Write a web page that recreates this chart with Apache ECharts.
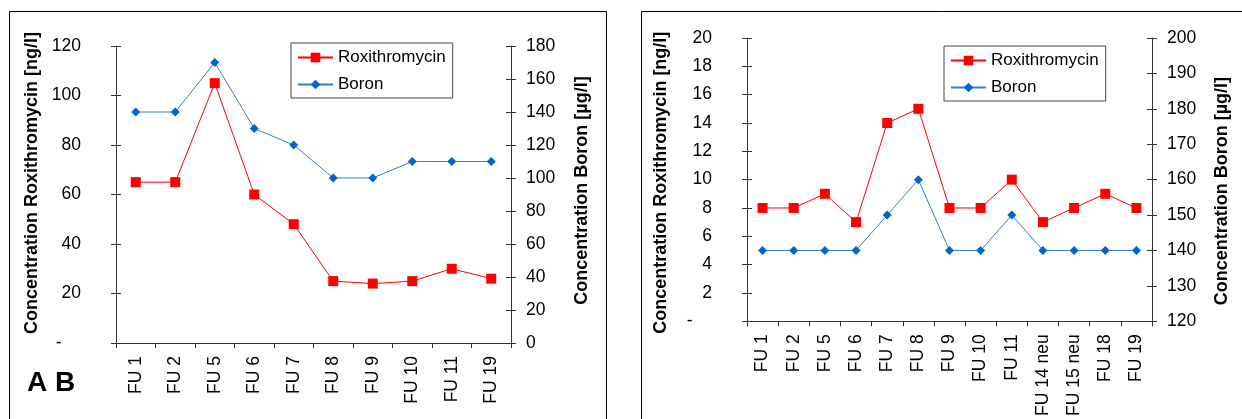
<!DOCTYPE html>
<html><head><meta charset="utf-8">
<script src="https://cdn.jsdelivr.net/npm/echarts@6/dist/echarts.min.js"></script>
<style>html,body{margin:0;padding:0;background:#fff}#c{width:1242px;height:419px}</style>
</head><body><div id="c"></div>
<script>
// Panel A
const catsA = ['FU 1','FU 2','FU 5','FU 6','FU 7','FU 8','FU 9','FU 10','FU 11','FU 19'];
const roxiA = [65, 65, 105, 60, 48, 25, 24, 25, 30, 26];
const boronA = [140, 140, 170, 130, 120, 100, 100, 110, 110, 110];
// Panel B
const catsB = ['FU 1','FU 2','FU 5','FU 6','FU 7','FU 8','FU 9','FU 10','FU 11','FU 14 neu','FU 15 neu','FU 18','FU 19'];
const roxiB = [8, 8, 9, 7, 14, 15, 8, 8, 10, 7, 8, 9, 8];
const boronB = [140, 140, 140, 140, 150, 160, 140, 140, 150, 140, 140, 140, 140];

const FONT = '"Liberation Sans", Arial, sans-serif';
const RED = '#FF0000', BLUE = '#0066CC', BLUE_LINE = '#2f7fd6';
const AX = '#333';
const chart = echarts.init(document.getElementById('c'));

function zeroDash(v){ return v === 0 ? '-    ' : String(v); }
function yAx(grid, pos, min, max, interval, fmt, name, nameGap, nameShift){
  return {
    type:'value', gridIndex:grid, position:pos, min, max, interval,
    splitLine:{show:false},
    axisLine:{show:true, lineStyle:{color:AX, width:1}},
    axisTick:{show:true, length:5, lineStyle:{color:AX}},
    axisLabel:{color:'#000', fontFamily:FONT, fontSize:17.5, margin: pos==='left'?35:15, formatter:fmt},
    name, nameLocation:'middle', nameGap, nameRotate:90,
    nameTextStyle:{color:'#000', fontFamily:FONT, fontSize:18, fontWeight:'bold', padding: nameShift}
  };
}
function yIn(grid, pos, min, max, interval){
  return {type:'value', gridIndex:grid, position:pos, min, max, interval,
    splitLine:{show:false}, axisLine:{show:false}, axisLabel:{show:false},
    axisTick:{show:true, inside:true, length:5, lineStyle:{color:AX}}};
}
function xAx(grid, data){
  return {type:'category', gridIndex:grid, data, boundaryGap:true,
    axisLine:{show:true, onZero:false, lineStyle:{color:AX}},
    axisTick:{show:true, length:5, alignWithLabel:false, lineStyle:{color:AX}},
    axisLabel:{color:'#000', fontFamily:FONT, fontSize:17.5, rotate:90, margin:13, interval:0}};
}
function xIn(grid, data){
  return {type:'category', gridIndex:grid, data, boundaryGap:true,
    axisLine:{show:false}, axisLabel:{show:false},
    axisTick:{show:true, inside:true, length:5, lineStyle:{color:AX}}};
}
function legend(left, top){
  return {left, top, orient:'vertical', data:['Roxithromycin','Boron'],
    itemWidth:35, itemHeight:12, itemGap:10,
    padding:[6,7,5,6], borderColor:'#444', borderWidth:1,
    textStyle:{color:'#000', fontFamily:FONT, fontSize:17}};
}
function seriesPair(xi, yL, yR, rox, bor){
  return [
    {name:'Roxithromycin', type:'line', xAxisIndex:xi, yAxisIndex:yL, data:rox,
     symbol:'rect', symbolSize:10, itemStyle:{color:RED}, lineStyle:{color:RED, width:1}, z:3},
    {name:'Boron', type:'line', xAxisIndex:xi, yAxisIndex:yR, data:bor,
     symbol:'diamond', symbolSize:9, itemStyle:{color:BLUE}, lineStyle:{color:BLUE_LINE, width:1}, z:2}
  ];
}

chart.setOption({
  animation:false,
  grid:[
    {left:116, top:46, width:395, height:297},
    {left:747, top:38, width:405, height:290}
  ],
  xAxis:[xAx(0,catsA), xAx(1,catsB), xIn(0,catsA), xIn(1,catsB)],
  yAxis:[
    yAx(0,'left',0,120,20,zeroDash,'Concentration Roxithromycin [ng/l]',75,[0,0,0,23]),
    yAx(0,'right',0,180,20,null,'Concentration Boron [µg/l]',62,[0,0,0,8]),
    yAx(1,'left',0,20,2,zeroDash,'Concentration Roxithromycin [ng/l]',77,[0,6,0,0]),
    yAx(1,'right',120,200,10,null,'Concentration Boron [µg/l]',61,[0,23,0,0]),
    yIn(0,'left',0,120,20), yIn(0,'right',0,180,20),
    yIn(1,'left',0,20,2), yIn(1,'right',120,200,10)
  ],
  legend:[legend(291,43), legend(944,46)],
  series:[].concat(seriesPair(0,0,1,roxiA,boronA), seriesPair(1,2,3,roxiB,boronB)),
  graphic:[
    {type:'rect', shape:{x:9.5, y:11.5, width:597, height:420}, style:{fill:'none', stroke:'#000', lineWidth:1}, silent:true},
    {type:'rect', shape:{x:641.5, y:11.5, width:620, height:420}, style:{fill:'none', stroke:'#000', lineWidth:1}, silent:true},
    {type:'text', left:27, top:369, style:{text:'A B', font:'bold 28px "Liberation Sans", Arial, sans-serif', fill:'#000'}}
  ]
});
</script></body></html>
